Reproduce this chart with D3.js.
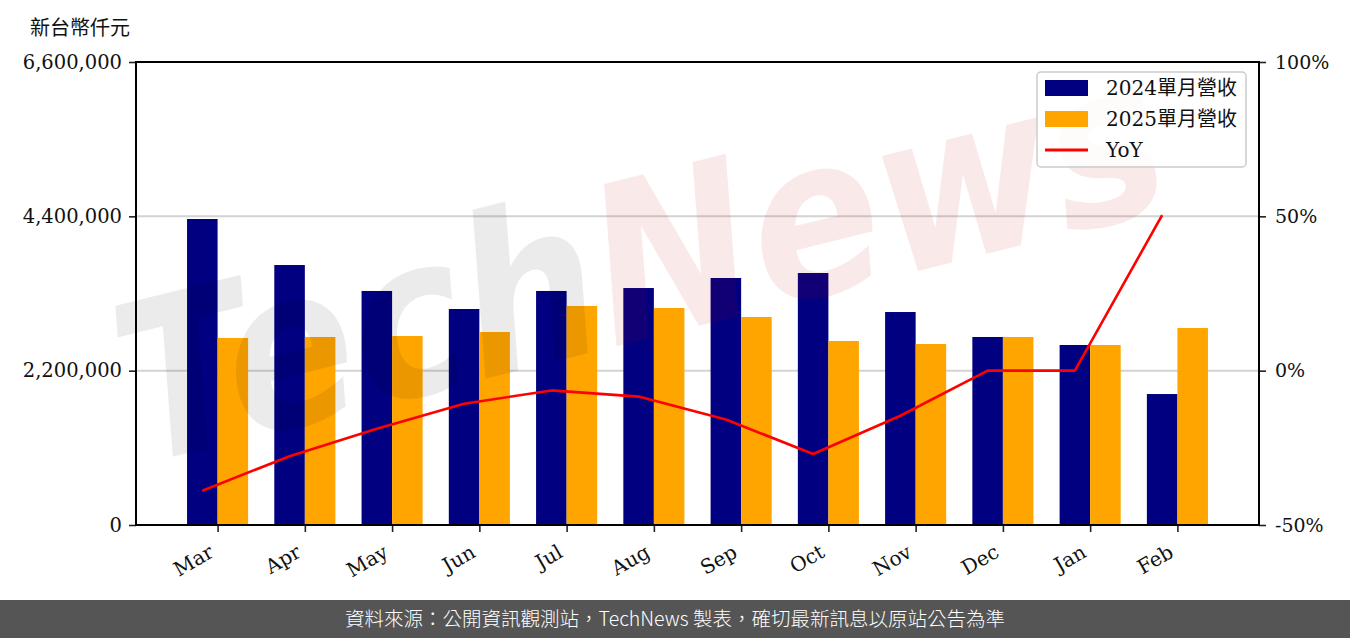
<!DOCTYPE html>
<html>
<head>
<meta charset="utf-8">
<script src="https://cdn.jsdelivr.net/npm/d3@7"></script>
<style>
  html, body { margin: 0; padding: 0; background: #fff; }
  svg { display: block; }
</style>
</head>
<body>
<svg id="chart" width="1350" height="638"></svg>
<script>
const months = ["Mar","Apr","May","Jun","Jul","Aug","Sep","Oct","Nov","Dec","Jan","Feb"];
const rev2024 = [4362000, 3706000, 3336000, 3079000, 3336000, 3378000, 3521000, 3592000, 3036000, 2680000, 2566000, 1867000];
const rev2025 = [2666000, 2680000, 2694000, 2751000, 3122000, 3093000, 2965000, 2623000, 2580000, 2680000, 2566000, 2808000];
const yoy = [-38.9, -27.7, -18.8, -10.7, -6.4, -8.4, -15.8, -27.0, -14.6, 0.0, 0.0, 50.4];
const leftTicks = [0, 2200000, 4400000, 6600000];
const rightTicks = [-50, 0, 50, 100];
const legendLabels = ["2024單月營收", "2025單月營收", "YoY"];
const unitLabel = "新台幣仟元";
const footerText = "資料來源：公開資訊觀測站，TechNews 製表，確切最新訊息以原站公告為準";

const W = 1350, H = 638;
const L = 136, R = 1259, T = 62, B = 525;
const serif = "'DejaVu Serif', 'Noto Sans CJK TC', serif";
const C2024 = "#000080", C2025 = "#FFA500";

const svg = d3.select("#chart");

const x = d3.scaleLinear().domain([-0.935, 11.935]).range([L, R]);
const yL = d3.scaleLinear().domain([0, 6600000]).range([B, T]);
const yR = d3.scaleLinear().domain([-50, 100]).range([B, T]);
const bw = 0.35;

// grid
svg.append("g").selectAll("line").data(leftTicks.slice(1, 3)).join("line")
  .attr("x1", L).attr("x2", R)
  .attr("y1", d => yL(d)).attr("y2", d => yL(d))
  .attr("stroke", "#d3d3d3").attr("stroke-width", 2);

// bars
svg.append("g").selectAll("rect").data(rev2024).join("rect")
  .attr("x", (d, i) => x(i - bw)).attr("width", (d, i) => x(i) - x(i - bw))
  .attr("y", d => yL(d)).attr("height", d => yL(0) - yL(d))
  .attr("fill", C2024);
svg.append("g").selectAll("rect").data(rev2025).join("rect")
  .attr("x", (d, i) => x(i)).attr("width", (d, i) => x(i + bw) - x(i))
  .attr("y", d => yL(d)).attr("height", d => yL(0) - yL(d))
  .attr("fill", C2025);

// watermark (decorative)
const wm = svg.append("g").attr("transform", "translate(140,465) rotate(-14) scale(0.96,1.1)")
  .style("font-family", "'DejaVu Sans', sans-serif").style("font-weight", "bold")
  .style("font-style", "italic").style("font-size", "200px");
const wmt = wm.append("text").attr("x", 0).attr("y", 0);
wmt.append("tspan").text("Tech").attr("fill", "#000").attr("fill-opacity", 0.08);
wmt.append("tspan").text("News").attr("fill", "#c80000").attr("fill-opacity", 0.085);

// yoy line (at centre of 2024 bars)
const line = d3.line().x((d, i) => x(i - bw / 2)).y(d => yR(d));
svg.append("path").datum(yoy).attr("d", line)
  .attr("fill", "none").attr("stroke", "#ff0000").attr("stroke-width", 2.6)
  .attr("stroke-linejoin", "round");

// axes
const axL = d3.axisLeft(yL).tickValues(leftTicks).tickFormat(d3.format(",")).tickSize(7).tickPadding(7);
const axR = d3.axisRight(yR).tickValues(rightTicks).tickFormat(d => d + "%").tickSize(7).tickPadding(9);
const axB = d3.axisBottom(x).tickValues(d3.range(months.length)).tickFormat(i => months[i]).tickSize(7).tickPadding(8);

function styleAxis(g) {
  g.select(".domain").remove();
  g.selectAll(".tick line").attr("stroke", "#222").attr("stroke-width", 1.6);
  g.selectAll("text").attr("fill", "#111").style("font-family", serif).style("font-size", "19.5px");
}
svg.append("g").attr("transform", `translate(${L},0)`).call(axL).call(styleAxis);
svg.append("g").attr("transform", `translate(${R},0)`).call(axR).call(styleAxis)
  .selectAll("text").style("font-size", "19px");
const gx = svg.append("g").attr("transform", `translate(0,${B})`).call(axB).call(styleAxis);
gx.selectAll("text").style("font-size", "20px")
  .attr("text-anchor", "end").attr("dy", "0").attr("y", 0)
  .attr("transform", "translate(-3,31) rotate(-30)");

// frame
svg.append("rect").attr("x", L).attr("y", T).attr("width", R - L).attr("height", B - T)
  .attr("fill", "none").attr("stroke", "#000").attr("stroke-width", 2);

// unit label
svg.append("text").attr("x", 30).attr("y", 35).text(unitLabel)
  .style("font-family", "'Noto Sans CJK TC', sans-serif").style("font-size", "20px").attr("fill", "#111");

// legend
const lg = svg.append("g").attr("transform", "translate(1037,72)");
lg.append("rect").attr("width", 209).attr("height", 95).attr("rx", 4)
  .attr("fill", "#fff").attr("fill-opacity", 0.8).attr("stroke", "#ccc").attr("stroke-width", 1.5);
const lcol = [C2024, C2025, "#ff0000"];
legendLabels.forEach((lab, i) => {
  const cy = 16 + i * 31;
  if (i < 2) {
    lg.append("rect").attr("x", 8).attr("y", cy - 8).attr("width", 43).attr("height", 16).attr("fill", lcol[i]);
  } else {
    lg.append("line").attr("x1", 8).attr("x2", 51).attr("y1", cy).attr("y2", cy)
      .attr("stroke", lcol[i]).attr("stroke-width", 3);
  }
  lg.append("text").attr("x", 69).attr("y", cy).attr("dy", "0.36em").text(lab)
    .style("font-family", serif).style("font-size", "20px").attr("fill", "#111");
});

// footer
svg.append("rect").attr("x", 0).attr("y", 600).attr("width", W).attr("height", 38).attr("fill", "#555555");
svg.append("text").attr("x", 675).attr("y", 619).attr("dy", "0.36em").attr("text-anchor", "middle")
  .text(footerText).style("font-family", "'Noto Sans CJK TC', sans-serif").style("font-size", "19.5px")
  .style("font-weight", 300).attr("fill", "#fff");
</script>
</body>
</html>
